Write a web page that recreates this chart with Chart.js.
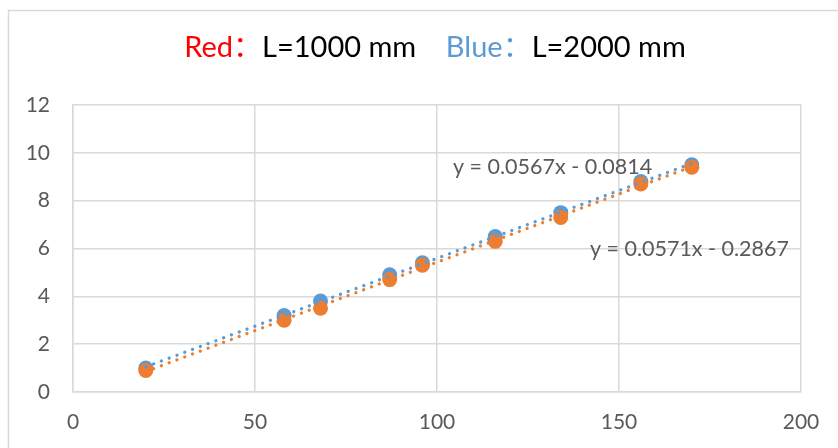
<!DOCTYPE html>
<html>
<head>
<meta charset="utf-8">
<script src="https://cdn.jsdelivr.net/npm/chart.js@4"></script>
<style>
  html, body { margin: 0; padding: 0; background: #ffffff; }
  #wrap { width: 838px; height: 448px; position: relative; }
</style>
</head>
<body>
<div id="wrap"><canvas id="chart" width="838" height="448"></canvas></div>
<script>
// Measured lengths (mm) and the two measurement series
const lengths = [20, 58, 68, 87, 96, 116, 134, 156, 170];
const blueValues = [1.0, 3.2, 3.8, 4.9, 5.4, 6.5, 7.5, 8.8, 9.5];   // L = 2000 mm
const redValues  = [0.9, 3.0, 3.5, 4.7, 5.3, 6.3, 7.3, 8.7, 9.4];   // L = 1000 mm

// Linear trendline coefficients: [blue, red]
const trendSlopes = [0.0567, 0.0571];
const trendIntercepts = [-0.0814, -0.2867];

const xTicks = [0, 50, 100, 150, 200];
const yTicks = [0, 2, 4, 6, 8, 10, 12];

const BLUE = '#5B9BD5';
const ORANGE = '#ED7D31';
const GRID = '#D9D9D9';
const TEXT = '#595959';
const FONT = "Lato, 'Noto Sans CJK SC', sans-serif";

const toPoints = (xs, ys) => xs.map((x, i) => ({ x, y: ys[i] }));
const xMin = Math.min(...lengths), xMax = Math.max(...lengths);
const trendLine = (k) => [xMin, xMax].map(x => ({ x, y: trendSlopes[k] * x + trendIntercepts[k] }));
const equation = (k) => {
  const b = trendIntercepts[k];
  return 'y = ' + trendSlopes[k].toFixed(4) + 'x ' + (b < 0 ? '- ' : '+ ') + Math.abs(b).toFixed(4);
};

// Outer frame, two-colour title and trendline equations
const decorations = {
  id: 'decorations',
  beforeDraw(chart) {
    const ctx = chart.ctx;
    ctx.save();
    ctx.strokeStyle = GRID;
    ctx.lineWidth = 1.5;
    ctx.strokeRect(8.5, 10.5, 1000, 1000);
    ctx.restore();
  },
  afterDraw(chart) {
    const ctx = chart.ctx;
    const parts = [
      ['Red\uFF1A', '#FF0000'],
      ['L=1000 mm', '#000000'],
      ['    ', '#000000'],
      ['Blue\uFF1A', BLUE],
      ['L=2000 mm', '#000000']
    ];
    ctx.save();
    ctx.font = '29px ' + FONT;
    ctx.textBaseline = 'middle';
    ctx.textAlign = 'left';
    const total = parts.reduce((s, p) => s + ctx.measureText(p[0]).width, 0);
    let x = 435 - total / 2;
    parts.forEach(([t, c]) => {
      ctx.fillStyle = c;
      ctx.fillText(t, x, 48);
      x += ctx.measureText(t).width;
    });

    const xs = chart.scales.x, ys = chart.scales.y;
    ctx.font = '21.5px ' + FONT;
    ctx.fillStyle = TEXT;
    const anchors = [[104.4, 9.41], [142.0, 5.98]];
    anchors.forEach(([ax, ay], k) => {
      ctx.fillText(equation(k), xs.getPixelForValue(ax), ys.getPixelForValue(ay));
    });
    ctx.restore();
  }
};

new Chart(document.getElementById('chart'), {
  type: 'scatter',
  data: {
    datasets: [
      {
        label: 'L=2000 mm trend',
        type: 'line',
        data: trendLine(0),
        borderColor: BLUE,
        borderWidth: 3.3,
        borderDash: [0.01, 8.3],
        borderCapStyle: 'round',
        pointRadius: 0,
        fill: false,
        order: 0
      },
      {
        label: 'L=1000 mm trend',
        type: 'line',
        data: trendLine(1),
        borderColor: ORANGE,
        borderWidth: 3.3,
        borderDash: [0.01, 8.3],
        borderCapStyle: 'round',
        pointRadius: 0,
        fill: false,
        order: 1
      },
      {
        label: 'L=1000 mm',
        data: toPoints(lengths, redValues),
        backgroundColor: ORANGE,
        borderColor: ORANGE,
        borderWidth: 0,
        pointRadius: 7.5,
        order: 2
      },
      {
        label: 'L=2000 mm',
        data: toPoints(lengths, blueValues),
        backgroundColor: BLUE,
        borderColor: BLUE,
        borderWidth: 0,
        pointRadius: 7.5,
        order: 3
      }
    ]
  },
  options: {
    responsive: false,
    animation: false,
    events: [],
    layout: { padding: { top: 105, right: 37, bottom: 0, left: 0 } },
    plugins: {
      legend: { display: false },
      title: { display: false },
      tooltip: { enabled: false }
    },
    scales: {
      x: {
        type: 'linear',
        min: 0,
        max: 200,
        afterBuildTicks(scale) { scale.ticks = xTicks.map(v => ({ value: v })); },
        afterFit(scale) { scale.height = 56; },
        grid: { color: GRID, lineWidth: 1.5, drawTicks: false },
        border: { color: GRID, width: 1.5 },
        ticks: { color: TEXT, font: { family: FONT, size: 21 }, padding: 18, maxRotation: 0 }
      },
      y: {
        type: 'linear',
        min: 0,
        max: 12,
        afterBuildTicks(scale) { scale.ticks = yTicks.map(v => ({ value: v })); },
        afterFit(scale) { scale.width = 73; },
        grid: { color: GRID, lineWidth: 1.5, drawTicks: false },
        border: { color: GRID, width: 1.5 },
        ticks: { color: TEXT, font: { family: FONT, size: 21 }, padding: 23 }
      }
    }
  },
  plugins: [decorations]
});
</script>
</body>
</html>
